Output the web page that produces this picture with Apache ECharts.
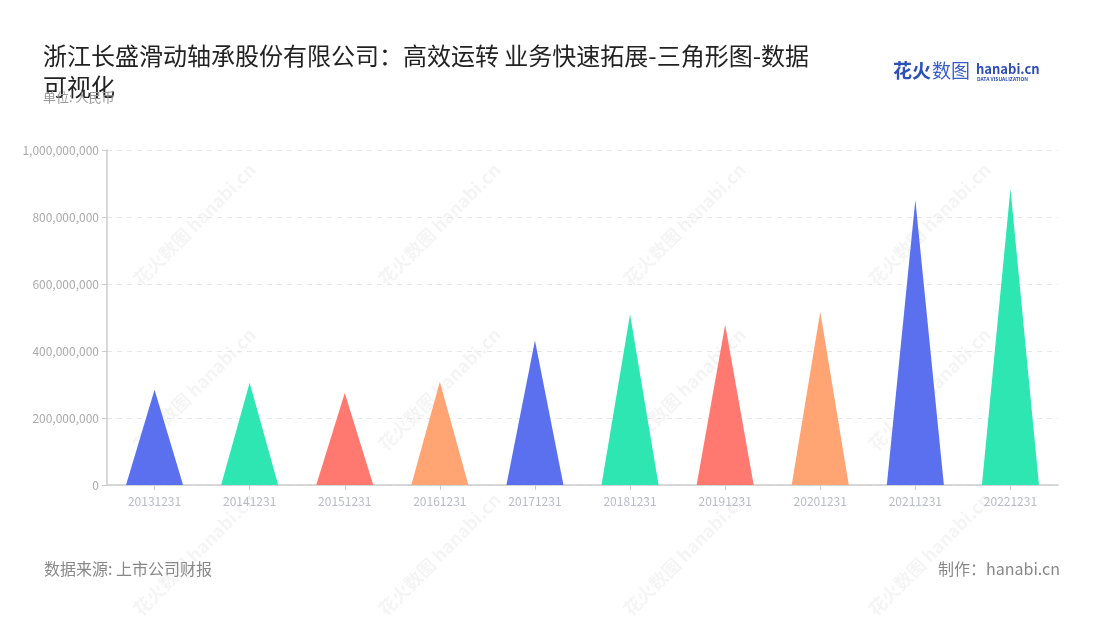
<!DOCTYPE html>
<html><head><meta charset="utf-8">
<script src="https://cdn.jsdelivr.net/npm/echarts@6/dist/echarts.min.js"></script>
<style>html,body{margin:0;padding:0;background:#fff}#c{width:1100px;height:620px}</style>
</head><body><div id="c"></div>
<script>
const categories = ['20131231','20141231','20151231','20161231','20171231','20181231','20191231','20201231','20211231','20221231'];
const values = [284000000, 305000000, 275000000, 308000000, 431000000, 510000000, 478000000, 517000000, 851000000, 884000000];
const palette = ['#5A70EE','#2EE6B1','#FF7971','#FFA472'];
const yTicks = {min: 0, max: 1000000000, interval: 200000000};

const FONT = '"Noto Sans CJK SC","Noto Sans",sans-serif';
const chart = echarts.init(document.getElementById('c'));
const wm = [];
[[150,190],[395,190],[640,190],[885,190],[150,355],[395,355],[640,355],[885,355],[150,520],[395,520],[640,520],[885,520]].forEach(p=>{
  wm.push({type:'text',left:p[0]-20,top:p[1]-30,rotation:Math.PI/4,z:0,silent:true,
    style:{text:'花火数图 hanabi.cn',fill:'rgba(0,0,0,0.045)',font:'bold 18px '+FONT}});
});
chart.setOption({
  color: palette,
  textStyle:{fontFamily:FONT},
  title: [
    {text:'浙江长盛滑动轴承股份有限公司：高效运转 业务快速拓展-三角形图-数据\n可视化', left:38, top:35,
     textStyle:{fontSize:24, fontWeight:'normal', color:'#222', lineHeight:31, fontFamily:FONT}},
    {text:'单位: 人民币', left:38, top:86, textStyle:{fontSize:13, fontWeight:'normal', color:'#999', fontFamily:FONT}},
    {text:'数据来源: 上市公司财报', left:39, top:556, textStyle:{fontSize:16, fontWeight:'normal', color:'#888', fontFamily:FONT}},
    {text:'制作：hanabi.cn', right:35, top:556, textStyle:{fontSize:16, fontWeight:'normal', color:'#888', fontFamily:FONT}}
  ],
  graphic: wm.concat([
    {type:'text', left:893, top:61, style:{text:'花火', fill:'#2C4FB8', font:'bold 19px '+FONT}},
    {type:'text', left:932, top:61, style:{text:'数图', fill:'#3A5DC8', font:'19px '+FONT}},
    {type:'text', left:976, top:63, style:{text:'hanabi.cn', fill:'#2C4FB8', font:'600 13px '+FONT}},
    {type:'text', left:977, top:77, style:{text:'DATA VISUALIZATION', fill:'#2C4FB8', font:'bold 5px '+FONT}}
  ]),
  grid:{left:107, right:42, top:150, bottom:135, containLabel:false},
  xAxis:{type:'category', data:categories,
    axisLine:{lineStyle:{color:'#ccc', width:1.5}}, axisTick:{show:true, alignWithLabel:true, lineStyle:{color:'#ccc'}},
    axisLabel:{color:'#b8bbc4', fontSize:12, margin:10}},
  yAxis:{type:'value', min:yTicks.min, max:yTicks.max, interval:yTicks.interval,
    axisLine:{show:true, lineStyle:{color:'#ccc', width:1.5}}, axisTick:{show:true, lineStyle:{color:'#ccc'}},
    axisLabel:{color:'#aaa', fontSize:12, formatter:v=>v.toLocaleString('en-US')},
    splitLine:{lineStyle:{color:'#e6e6e6', type:[5,5]}}},
  series:[{type:'pictorialBar', symbol:'triangle', barWidth:'60%', symbolSize:['100%','100%'], z:2,
    data: values.map((v,i)=>({value:v, itemStyle:{color:palette[i%4]}}))}]
});
</script></body></html>
